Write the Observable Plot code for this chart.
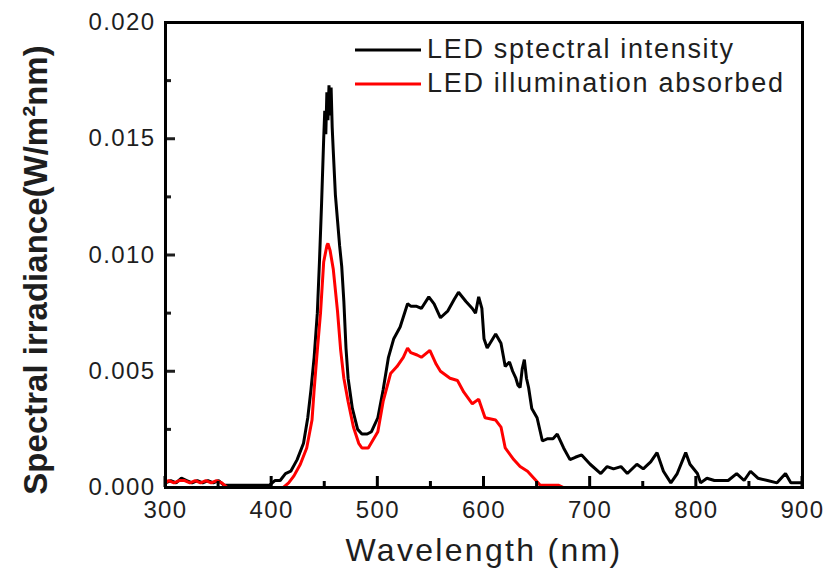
<!DOCTYPE html>
<html>
<head>
<meta charset="utf-8">
<script src="https://cdn.jsdelivr.net/npm/d3@7"></script>
<script src="https://cdn.jsdelivr.net/npm/@observablehq/plot@0.6"></script>
<style>
  html, body { margin: 0; padding: 0; background: #fff; }
  #chart { position: relative; width: 823px; height: 575px; }
  g[aria-label$="tick label"] text { letter-spacing: 1.4px; }
</style>
</head>
<body>
<div id="chart"></div>
<script>
// ---- data ----
const ledWavelength = [300,305,310,315,320,325,330,335,340,345,350,355,360,370,380,390,398,403,408,413,418,424,430,434,437,440,443,445,447,449,450,451,452,453,454,455,456,457,458,460,462,464,466,468,470,472,476,481,485,490,494,500,505,510,515,521,528,531,536,541,548,553,559,566,572,576,583,589,592,595,598,600,603,611,616,620,624,627,630,632,634,636,638,640,642,645,650,655,660,665,669,675,681,686,692,700,710,716,722,729,735,744,750,757,763,769,776,782,790,794,801,804,810,817,830,838,845,851,858,867,876,884,889,900];
const ledIntensity = [0.0002,0.0003,0.0002,0.0004,0.0003,0.0002,0.0003,0.0002,0.0003,0.0002,0.0003,0.0001,0.0001,0.0001,0.0001,0.0001,0.0001,0.0003,0.0003,0.0006,0.0007,0.0012,0.0019,0.0030,0.0042,0.0056,0.0075,0.0097,0.0122,0.0150,0.0162,0.0152,0.0170,0.0158,0.0173,0.0160,0.0172,0.0155,0.0145,0.0126,0.0115,0.0104,0.0095,0.0080,0.0060,0.0047,0.0034,0.0025,0.0023,0.0023,0.0024,0.0030,0.0042,0.0056,0.0064,0.0069,0.0079,0.0078,0.0078,0.0077,0.0082,0.0079,0.0073,0.0076,0.0081,0.0084,0.0080,0.0077,0.0075,0.0082,0.0077,0.0064,0.0060,0.0066,0.0062,0.0052,0.0054,0.0050,0.0047,0.0044,0.0043,0.0051,0.0055,0.0047,0.0043,0.0034,0.0030,0.0020,0.0021,0.0021,0.0023,0.0017,0.0012,0.0013,0.0014,0.0010,0.0006,0.0009,0.0008,0.0009,0.0006,0.0010,0.0008,0.0011,0.0015,0.0007,0.0002,0.0006,0.0015,0.0010,0.0006,0.0002,0.0004,0.0003,0.0003,0.0006,0.0003,0.0007,0.0004,0.0003,0.0002,0.0006,0.0002,0.0002];

const absWavelength = [300,303,308,313,318,323,328,333,338,343,348,353,358,370,390,411,416,421,427,433,438,440,443,446,449,452,453,455,458,462,465,468,472,477,482,485,491,500,505,512,518,524,528,531,537,541,549,555,559,568,575,581,589,595,598,601,611,616,620,628,634,641,647,653,670,675,900];
const absIntensity = [0.0002,0.0003,0.0002,0.0003,0.0003,0.0002,0.0003,0.0002,0.0003,0.0002,0.0003,0.0002,0.0000,0.0000,0.0000,0.0000,0.0002,0.0005,0.0010,0.0017,0.0029,0.0042,0.0059,0.0075,0.0097,0.0104,0.0105,0.0102,0.0094,0.0076,0.0059,0.0047,0.0037,0.0026,0.0019,0.0017,0.0017,0.0024,0.0037,0.0049,0.0052,0.0056,0.0060,0.0058,0.0057,0.0056,0.0059,0.0053,0.0050,0.0047,0.0046,0.0041,0.0036,0.0038,0.0034,0.0030,0.0029,0.0026,0.0017,0.0012,0.0009,0.0007,0.0004,0.0001,0.0001,0.0000,0.0000];

const xMajorTicks = [300,400,500,600,700,800,900];
const xMinorTicks = [350,450,550,650,750,850];
const yMajorTicks = [0,0.005,0.010,0.015,0.020];
const yMinorTicks = [0.0025,0.0075,0.0125,0.0175];

const seriesNames = ["LED sptectral intensity", "LED illumination absorbed"];
const seriesColors = ["#000000", "#ff0000"];
const xTitle = "Wavelength (nm)";
const yTitle = "Spectral irradiance(W/m\u00B2nm)";

// ---- build ----
const led = ledWavelength.map((w, i) => ({w, v: ledIntensity[i]}));
const abs = absWavelength.map((w, i) => ({w, v: absIntensity[i]}));

const font = "'Liberation Sans', Arial, sans-serif";

const svg = Plot.plot({
  width: 823,
  height: 575,
  marginLeft: 165,
  marginRight: 21,
  marginTop: 22,
  marginBottom: 88,
  style: {fontFamily: font, fontSize: "24px", color: "#1e1e1e", background: "#fff", overflow: "visible"},
  x: {domain: [300, 900]},
  y: {domain: [0, 0.02]},
  marks: [
    Plot.line(led, {x: "w", y: "v", stroke: seriesColors[0], strokeWidth: 3, strokeLinejoin: "miter"}),
    Plot.line(abs, {x: "w", y: "v", stroke: seriesColors[1], strokeWidth: 3, strokeLinejoin: "miter"}),
    // tick labels
    Plot.axisX({ticks: xMajorTicks, tickSize: 0, tickPadding: 13, label: null, fontSize: 24}),
    Plot.axisY({ticks: yMajorTicks, tickSize: 0, tickPadding: 10, tickFormat: d3.format(".3f"), label: null, fontSize: 24}),
    // inward y ticks
    Plot.axisY({ticks: yMajorTicks, tickSize: -10, strokeWidth: 3, tickFormat: () => "", label: null}),
    Plot.axisY({ticks: yMinorTicks, tickSize: -6, strokeWidth: 3, tickFormat: () => "", label: null}),
    Plot.frame({stroke: "#000", strokeWidth: 3}),
    // axis titles
    Plot.text([xTitle], {frameAnchor: "bottom", dy: 73, fontSize: 32, fill: "#1e1e1e", text: d => d}),
    Plot.text([yTitle], {frameAnchor: "left", textAnchor: "middle", rotate: -90, dx: -129, dy: 15, fontSize: 33, fontWeight: "bold", fill: "#1e1e1e", text: d => d})
  ]
});

const root = d3.select(svg);

// inward x ticks, positioned with Plot's own x and y scales
const xs = svg.scale("x"), ys = svg.scale("y");
const base = ys.apply(0);
const xt = root.append("g").attr("class", "x-inward-ticks").attr("stroke", "#000").attr("stroke-width", 3);
xMajorTicks.forEach(v => xt.append("line").attr("x1", xs.apply(v)).attr("x2", xs.apply(v)).attr("y1", base).attr("y2", base - 11));
xMinorTicks.forEach(v => xt.append("line").attr("x1", xs.apply(v)).attr("x2", xs.apply(v)).attr("y1", base).attr("y2", base - 6));

// style axis title spacing
root.selectAll("text").filter(function() { return this.textContent === xTitle; })
  .style("letter-spacing", "2.3px");

// legend (inside plot, upper right)
const leg = root.append("g").attr("class", "legend").attr("text-anchor", "start");
const legY = [50, 84];
seriesNames.forEach((name, i) => {
  leg.append("line").attr("x1", 355).attr("x2", 421).attr("y1", legY[i]).attr("y2", legY[i])
    .attr("stroke", seriesColors[i]).attr("stroke-width", 3);
  leg.append("text").attr("x", 427).attr("y", legY[i] + 8)
    .attr("text-anchor", "start")
    .attr("font-family", font).attr("font-size", 27).attr("fill", "#1e1e1e")
    .style("letter-spacing", "1.7px")
    .text(name);
});

document.getElementById("chart").appendChild(svg);
</script>
</body>
</html>
